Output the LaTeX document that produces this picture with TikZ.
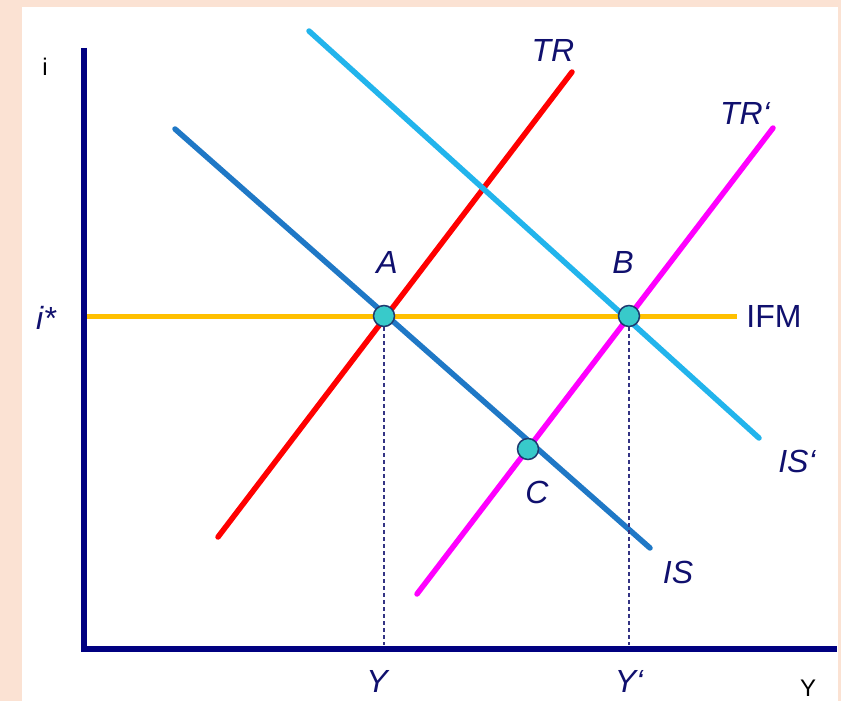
\documentclass[tikz,border=0pt]{standalone}
\usepackage{fontspec}
\setmainfont{Liberation Sans}
\definecolor{peach}{HTML}{FBE2D3}
\definecolor{axisnavy}{HTML}{000080}
\definecolor{txtnavy}{HTML}{10106E}
\definecolor{ifm}{HTML}{FFC000}
\definecolor{trred}{HTML}{FF0000}
\definecolor{trmag}{HTML}{FF00FF}
\definecolor{isblue}{HTML}{1F78C6}
\definecolor{islight}{HTML}{22B4EC}
\definecolor{ptfill}{HTML}{38CACA}
\definecolor{ptline}{HTML}{1F3A70}
\begin{document}
\begin{tikzpicture}[x=1pt,y=-1pt,
  curve/.style={line width=5.5pt,line cap=round},
  axisline/.style={line width=6pt,draw=axisnavy},
  lbl/.style={text=txtnavy,font=\fontsize{32}{34}\selectfont\itshape,inner sep=0pt},
  axlbl/.style={text=black,font=\fontsize{24}{26}\selectfont,inner sep=0pt},
  eqpt/.style={circle,fill=ptfill,draw=ptline,line width=1.5pt,minimum size=21pt,inner sep=0pt},
  guide/.style={draw=txtnavy!85,line width=1.2pt,dash pattern=on 4pt off 3pt}]
\fill[peach] (0,0) rectangle (841,701);
\fill[white] (22,7) rectangle (838,701);
\useasboundingbox (0,0) rectangle (841,701);
% axes
\coordinate (ytop) at (84,48);
\coordinate (origin) at (84,649);
\coordinate (xend) at (837,649);
\draw[axisline] (ytop) -- (origin) -- (xend);
\node[axlbl] (ilab) at (45,67) {i};
\node[axlbl] (Ylab) at (808,688) {Y};
% curves
\coordinate (ifm1) at (87,316);
\coordinate (ifm2) at (737,316);
\draw[line width=5pt,draw=ifm] (ifm1) -- (ifm2);
\coordinate (tr1) at (218,537);
\coordinate (tr2) at (572,72);
\draw[curve,draw=trred] (tr1) -- (tr2);
\coordinate (trp1) at (417,594);
\coordinate (trp2) at (773,128);
\draw[curve,draw=trmag] (trp1) -- (trp2);
\coordinate (is1) at (175,129);
\coordinate (is2) at (650,548);
\draw[curve,draw=isblue] (is1) -- (is2);
\coordinate (isp1) at (309,31);
\coordinate (isp2) at (759,438);
\draw[curve,draw=islight] (isp1) -- (isp2);
% equilibrium points
\node[eqpt] (A) at (384,316) {};
\node[eqpt] (B) at (629,316) {};
\node[eqpt] (C) at (528,449) {};
\coordinate (Ay) at (384,645);
\coordinate (By) at (629,645);
\draw[guide] (A.south) -- (Ay);
\draw[guide] (B.south) -- (By);
% labels
\node[lbl] (tA) at (387,262) {A};
\node[lbl] (tB) at (623,262) {B};
\node[lbl] (tC) at (537,492) {C};
\node[lbl] (tTR) at (553,50) {TR};
\node[lbl] (tTRp) at (745,113) {TR‘};
\node[lbl] (tIS) at (678,572) {IS};
\node[lbl] (tISp) at (797,461) {IS‘};
\node[lbl] (tistar) at (46,318) {i*};
\node[lbl,font=\fontsize{32}{34}\selectfont] (tIFM) at (774,316) {IFM};
\node[lbl] (tY) at (377,681) {Y};
\node[lbl] (tYp) at (629,681) {Y‘};
\end{tikzpicture}
\end{document}
